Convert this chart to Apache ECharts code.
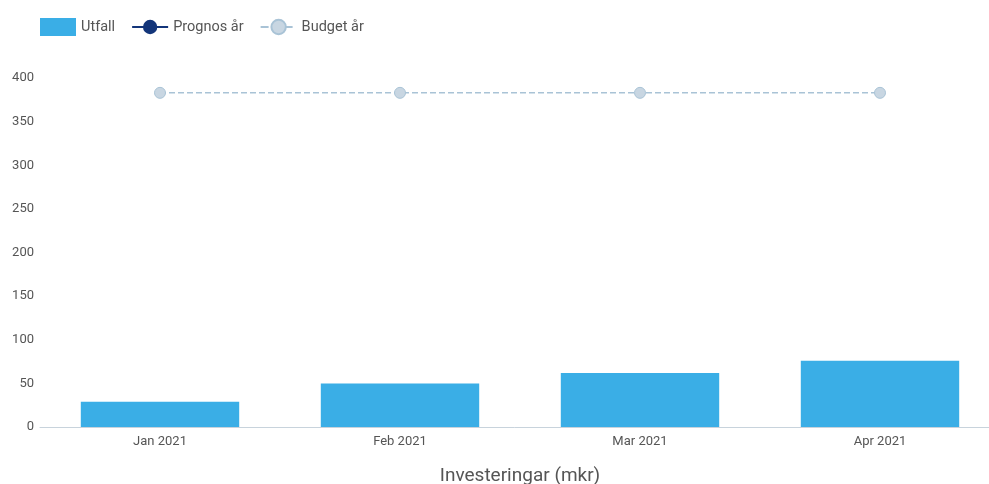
<!DOCTYPE html>
<html>
<head>
<meta charset="utf-8">
<script src="https://cdn.jsdelivr.net/npm/echarts@6/dist/echarts.min.js"></script>
<style>
  html, body { margin: 0; padding: 0; background: #fff; }
  #chart { width: 989px; height: 484px; }
</style>
</head>
<body>
<div id="chart"></div>
<script>
const months = ["Jan 2021", "Feb 2021", "Mar 2021", "Apr 2021"];
const utfall = [29, 50, 62, 76];
const prognos = [null, null, null, null];
const budget = [383, 383, 383, 383];

const chart = echarts.init(document.getElementById("chart"));
const option = {
  animation: false,
  textStyle: { fontFamily: "Roboto" },
  legend: {
    left: 35,
    top: 13,
    itemWidth: 36,
    itemHeight: 18,
    itemGap: 16,
    textStyle: { color: "#555", fontSize: 14.5 },
    data: [
      { name: "Utfall", icon: "rect" },
      "Prognos år",
      "Budget år",
    ],
  },
  grid: {
    left: 40,
    top: 78,
    width: 960,
    bottom: 57,
    containLabel: false,
    outerBoundsMode: "none",
  },
  xAxis: {
    type: "category",
    data: months,
    name: "Investeringar (mkr)",
    nameLocation: "middle",
    nameGap: 40,
    nameTextStyle: { color: "#555", fontSize: 19 },
    axisLine: { lineStyle: { color: "#c8d3dc" } },
    axisTick: { show: false },
    axisLabel: { color: "#555", fontSize: 13, margin: 8 },
  },
  yAxis: {
    type: "value",
    min: 0,
    max: 400,
    interval: 50,
    splitLine: { show: false },
    axisLine: { show: false },
    axisTick: { show: false },
    axisLabel: { color: "#555", fontSize: 13, margin: 6, align: "right" },
  },
  series: [
    {
      name: "Utfall",
      type: "bar",
      data: utfall,
      barWidth: "66%",
      itemStyle: { color: "#3aaee6" },
    },
    {
      name: "Prognos år",
      type: "line",
      data: prognos,
      symbol: "circle",
      symbolSize: 9,
      lineStyle: { color: "#13357a", width: 3 },
      itemStyle: { color: "#13357a" },
    },
    {
      name: "Budget år",
      type: "line",
      data: budget,
      symbol: "circle",
      symbolSize: 11,
      lineStyle: { color: "#a9c3d6", width: 1.5, type: "dashed" },
      itemStyle: { color: "#c8d6e2", borderColor: "#a9c3d6", borderWidth: 1 },
    },
  ],
};
chart.setOption(option);
</script>
</body>
</html>
